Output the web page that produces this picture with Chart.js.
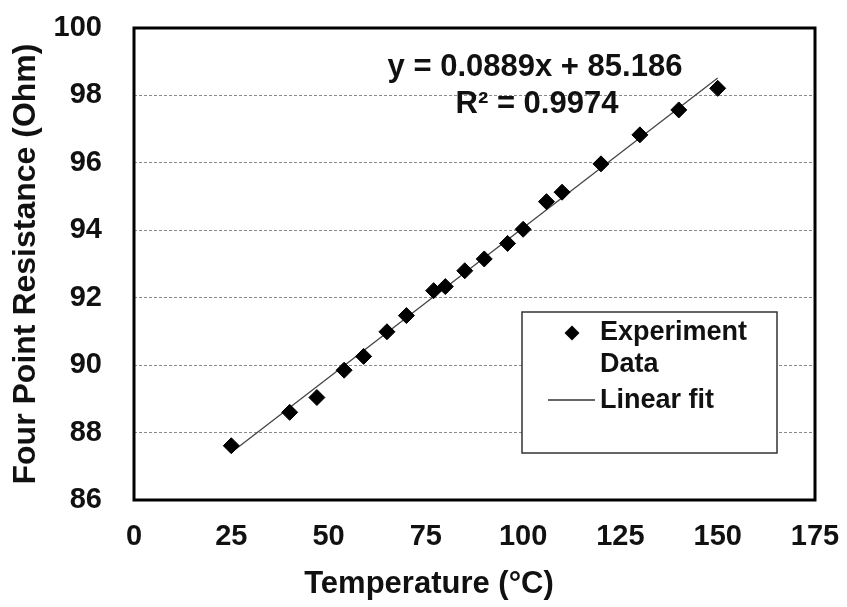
<!DOCTYPE html>
<html>
<head>
<meta charset="utf-8">
<script src="https://cdn.jsdelivr.net/npm/chart.js@4/dist/chart.umd.min.js"></script>
<style>
html,body{margin:0;padding:0;background:#fff;}
#c{display:block;}
</style>
</head>
<body>
<canvas id="c" width="847" height="607"></canvas>
<script>
// ---- data ----
const temperature = [25, 40, 47, 54, 59, 65, 70, 77, 80, 85, 90, 96, 100, 106, 110, 120, 130, 140, 150];
const resistance  = [87.61, 88.60, 89.04, 89.85, 90.26, 90.99, 91.47, 92.21, 92.33, 92.80, 93.15, 93.61, 94.03, 94.85, 95.13, 95.97, 96.83, 97.57, 98.21];
const fitX = [25, 150];
const fitY = [87.41, 98.52];
const xTicks = [0, 25, 50, 75, 100, 125, 150, 175];
const yTicks = [86, 88, 90, 92, 94, 96, 98, 100];
const seriesLabels = ['Experiment Data', 'Linear fit'];
const equationLines = ['y = 0.0889x + 85.186', 'R\u00B2 = 0.9974'];
const xTitle = 'Temperature (\u00B0C)';
const yTitle = 'Four Point Resistance (Ohm)';

const FONT = '"Liberation Sans", Arial, Helvetica, sans-serif';
Chart.defaults.font.family = FONT;
Chart.defaults.color = '#000';

function diamond(ctx, x, y, r) {
  ctx.beginPath();
  ctx.moveTo(x - r, y); ctx.lineTo(x, y - r); ctx.lineTo(x + r, y); ctx.lineTo(x, y + r);
  ctx.closePath();
  ctx.fill();
}

const decor = {
  id: 'decor',
  afterDraw(chart) {
    const ctx = chart.ctx, a = chart.chartArea;
    ctx.save();
    // plot frame
    ctx.strokeStyle = '#000';
    ctx.lineWidth = 3;
    ctx.strokeRect(a.left, a.top, a.right - a.left, a.bottom - a.top);

    // trendline equation
    ctx.fillStyle = '#111';
    ctx.font = 'bold 31px ' + FONT;
    ctx.textAlign = 'center';
    ctx.textBaseline = 'alphabetic';
    ctx.fillText(equationLines[0], 535, 76);
    ctx.fillText(equationLines[1], 537, 113);

    // legend box
    ctx.fillStyle = '#fff';
    ctx.fillRect(522, 312, 255, 141);
    ctx.strokeStyle = '#333';
    ctx.lineWidth = 1.5;
    ctx.strokeRect(522, 312, 255, 141);
    ctx.fillStyle = '#000';
    diamond(ctx, 572, 333, 7.5);
    ctx.strokeStyle = '#333';
    ctx.lineWidth = 1.3;
    ctx.beginPath(); ctx.moveTo(548, 400); ctx.lineTo(595, 400); ctx.stroke();
    ctx.fillStyle = '#111';
    ctx.font = 'bold 27px ' + FONT;
    ctx.textAlign = 'left';
    const words = seriesLabels[0].split(' ');
    ctx.fillText(words[0], 600, 340);
    ctx.fillText(words.slice(1).join(' '), 600, 372);
    ctx.fillText(seriesLabels[1], 600, 408);

    // x axis title
    ctx.font = 'bold 31px ' + FONT;
    ctx.textAlign = 'center';
    ctx.fillText(xTitle, 429, 593);
    ctx.restore();
  }
};

new Chart(document.getElementById('c'), {
  type: 'scatter',
  data: {
    datasets: [
      {
        label: seriesLabels[0],
        data: temperature.map((t, i) => ({x: t, y: resistance[i]})),
        pointStyle: 'rectRot',
        pointRadius: 8,
        pointHoverRadius: 8,
        backgroundColor: '#000',
        borderColor: '#000',
        borderWidth: 1,
        showLine: false,
        order: 0
      },
      {
        label: seriesLabels[1],
        data: fitX.map((t, i) => ({x: t, y: fitY[i]})),
        showLine: true,
        borderColor: '#444',
        borderWidth: 1.3,
        pointRadius: 0,
        pointHoverRadius: 0,
        fill: false,
        order: 1
      }
    ]
  },
  options: {
    responsive: false,
    devicePixelRatio: 1,
    animation: false,
    layout: {autoPadding: false, padding: {top: 28, right: 32, left: 0, bottom: 0}},
    plugins: {legend: {display: false}, tooltip: {enabled: false}},
    scales: {
      x: {
        type: 'linear',
        min: 0, max: 175,
        afterBuildTicks: s => { s.ticks = xTicks.map(v => ({value: v})); },
        afterFit: s => { s.height = 107; s.paddingLeft = 0; s.paddingRight = 0; },
        grid: {display: false, drawTicks: false},
        border: {display: false},
        ticks: {
          padding: 20,
          color: '#111',
          font: {size: 29, weight: 'bold'},
          callback: v => String(v)
        }
      },
      y: {
        type: 'linear',
        min: 86, max: 100,
        afterBuildTicks: s => { s.ticks = yTicks.map(v => ({value: v})); },
        afterFit: s => { s.width = 134; s.paddingTop = 0; s.paddingBottom = 0; },
        grid: {display: true, drawTicks: false, color: '#8a8a8a', lineWidth: 1},
        border: {display: false, dash: [3, 2]},
        ticks: {
          padding: 32,
          color: '#111',
          font: {size: 29, weight: 'bold'},
          callback: v => String(v)
        },
        title: {
          display: true,
          text: yTitle,
          color: '#111',
          font: {size: 32, weight: 'bold'},
          padding: {top: 7, bottom: 0}
        }
      }
    }
  },
  plugins: [decor]
});
</script>
</body>
</html>
